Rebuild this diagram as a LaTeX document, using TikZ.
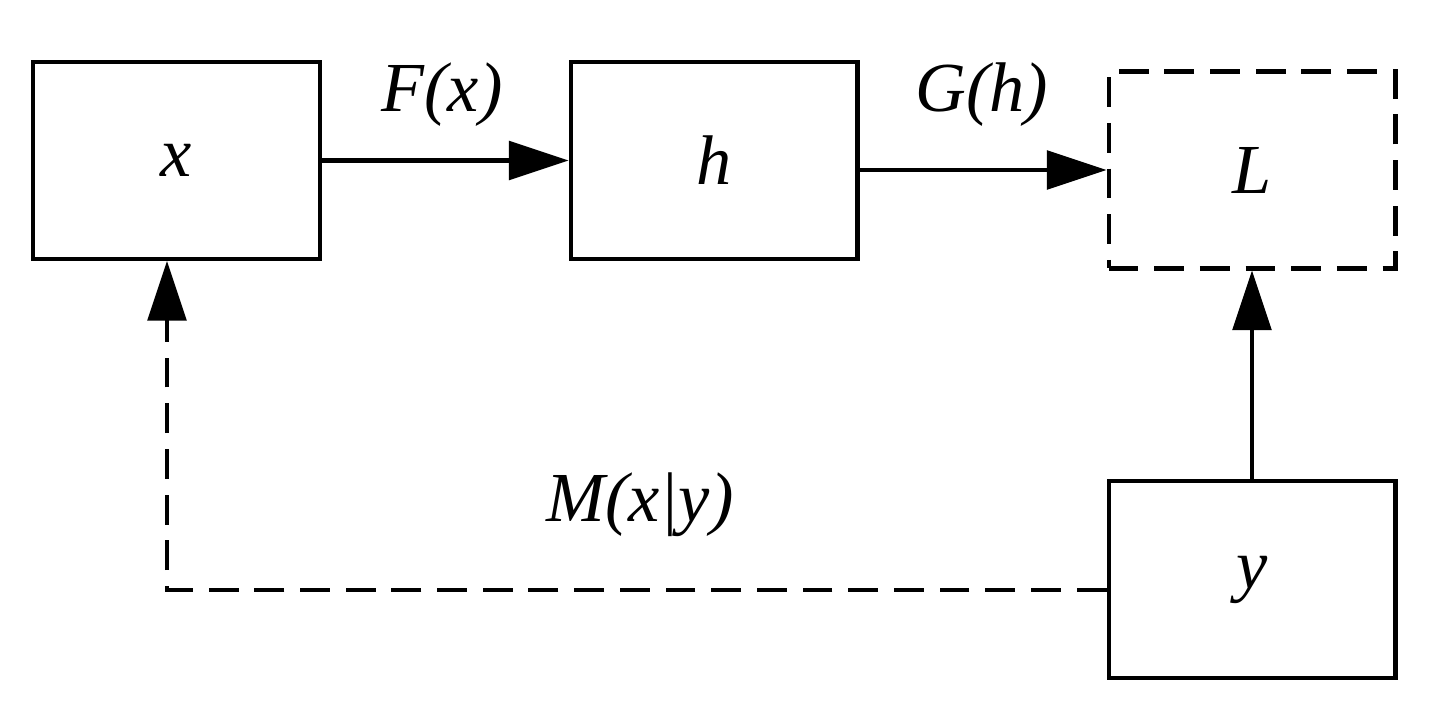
\documentclass[tikz,border=0pt]{standalone}
\usepackage{fontspec}
\setmainfont{Liberation Serif}
\usetikzlibrary{arrows.meta}
\begin{document}
\begin{tikzpicture}[x=0.02cm,y=-0.02cm,
  box/.style={draw,line width=2.3pt,minimum width=5.74cm,minimum height=3.94cm,inner sep=0pt,font=\fontsize{40}{48}\selectfont\itshape},
  dbox/.style={box,dash pattern=on 17pt off 9pt},
  arr/.style={line width=2.3pt,-{Triangle[length=34pt,width=22pt]}},
  lab/.style={font=\fontsize{40}{48}\selectfont\itshape}]
\useasboundingbox (0,0) rectangle (1432,716);
\node[box] (x) at (176.5,160.5) {x};
\node[box] (h) at (714,160.5) {h};
\node[dbox,line cap=butt] (L) at (1252,170) {L};
\node[box] (y) at (1252,579.5) {y};
\draw[arr] (x.east) -- (h.west);
\draw[arr] (h.east|-0,170) -- (L.west);
\draw[arr] (y.north) -- (L.south);
\coordinate (c) at (167,590);
\draw[arr,dash pattern=on 17pt off 9pt] (y.west|-c) -- (c) -- (c|-x.south);
\node[lab] (fx) at (442,95) {F(x)};
\node[lab] (gh) at (982,95) {G(h)};
\node[lab] (m) at (640,505) {M(x|y)};
\end{tikzpicture}
\end{document}
